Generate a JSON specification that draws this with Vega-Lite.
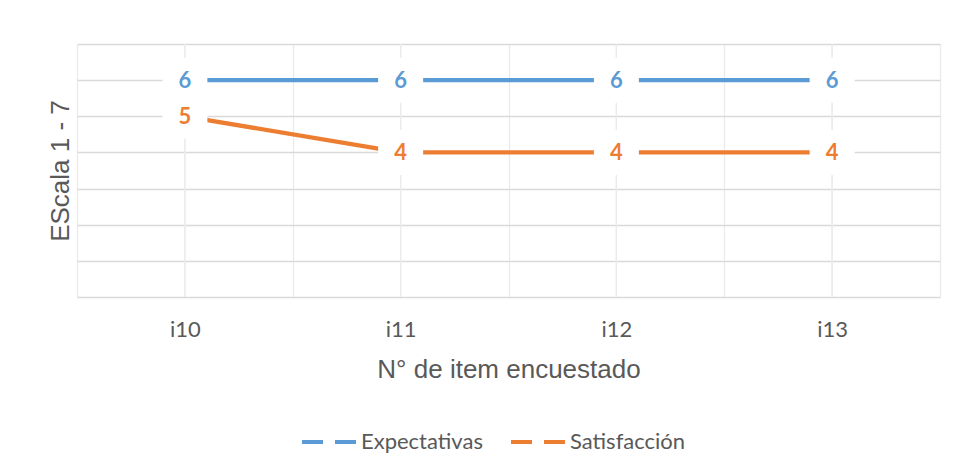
{
  "$schema": "https://vega.github.io/schema/vega-lite/v6.json",
  "width": 863,
  "height": 253,
  "autosize": "none",
  "padding": {"left": 77, "top": 44, "right": 16, "bottom": 177},
  "background": "white",
  "config": {
    "view": {"stroke": null},
    "axis": {"titleFont": "Liberation Sans", "titleFontWeight": "normal", "titleColor": "#595959", "titleFontSize": 26, "labelFont": "Lato", "labelColor": "#595959"},
    "legend": {"labelFont": "Lato", "labelColor": "#595959"}
  },
  "data": {
    "values": [
      {"item": "i10", "serie": "Expectativas", "valor": 6},
      {"item": "i11", "serie": "Expectativas", "valor": 6},
      {"item": "i12", "serie": "Expectativas", "valor": 6},
      {"item": "i13", "serie": "Expectativas", "valor": 6},
      {"item": "i10", "serie": "Satisfacción", "valor": 5},
      {"item": "i11", "serie": "Satisfacción", "valor": 4},
      {"item": "i12", "serie": "Satisfacción", "valor": 4},
      {"item": "i13", "serie": "Satisfacción", "valor": 4}
    ]
  },
  "encoding": {
    "x": {
      "field": "item", "type": "nominal", "bandPosition": 0.5,
      "scale": {"type": "band", "paddingInner": 0, "paddingOuter": 0},
      "axis": {"title": "N° de item encuestado", "labelAngle": 0, "labelFontSize": 22, "labelPadding": 22, "titlePadding": 16, "ticks": false, "domain": false, "grid": true, "tickBand": "extent", "gridColor": "#EBEBEB", "gridWidth": 1.3}
    },
    "y": {
      "field": "valor", "type": "quantitative",
      "scale": {"domain": [0, 7], "nice": false},
      "axis": {"title": "EScala 1 - 7", "values": [0, 1, 2, 3, 4, 5, 6, 7], "labels": false, "ticks": false, "domain": false, "grid": true, "gridColor": "#D9D9D9", "gridWidth": 1.3, "titlePadding": 4}
    }
  },
  "layer": [
    {
      "mark": {"type": "rule", "color": "#EBEBEB", "strokeWidth": 1.3},
      "encoding": {
        "y": {"value": 0},
        "y2": {"value": 253},
        "color": {"value": "#EBEBEB"}
      }
    },
    {
      "mark": {"type": "line", "strokeWidth": 4.3},
      "encoding": {
        "color": {
          "field": "serie", "type": "nominal",
          "scale": {"domain": ["Expectativas", "Satisfacción"], "range": ["#5B9BD5", "#ED7D31"]},
          "legend": {"title": null, "orient": "none", "legendX": 223, "legendY": 368, "direction": "horizontal", "symbolType": "stroke", "symbolSize": 3136, "symbolStrokeWidth": 4, "symbolDash": [21, 12], "labelFontSize": 22, "labelOffset": 1, "columnPadding": 20}
        }
      }
    },
    {
      "mark": {"type": "point", "shape": "square", "size": 2025, "filled": true, "fill": "white", "opacity": 1, "strokeWidth": 0}
    },
    {
      "mark": {"type": "text", "font": "Lato", "fontWeight": "bold", "fontSize": 22, "align": "center", "baseline": "middle", "dy": 1},
      "encoding": {
        "text": {"field": "valor", "type": "quantitative"},
        "color": {"field": "serie", "type": "nominal", "legend": null}
      }
    }
  ]
}
